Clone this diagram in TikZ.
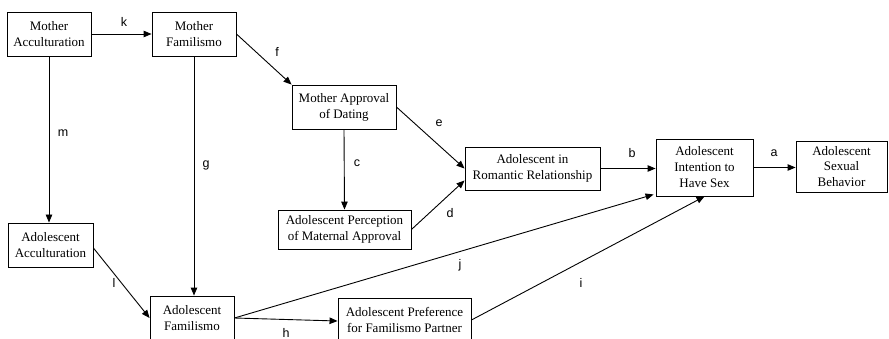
\documentclass[tikz,border=0pt]{standalone}
\usepackage{fontspec}
\setmainfont{Liberation Serif}
\newfontfamily\labfont{Liberation Sans}
\usetikzlibrary{arrows.meta,calc}
\begin{document}
\begin{tikzpicture}[x=1pt,y=-1pt,
  box/.style={draw,line width=0.9pt,inner sep=0pt,align=center,
    font=\fontsize{13}{16}\selectfont},
  conn/.style={line width=0.9pt,-{Triangle[length=8pt,width=6.5pt]}},
  lbl/.style={inner sep=0pt,font=\labfont\fontsize{12.5}{14}\selectfont}]
\useasboundingbox (0,0) rectangle (889,339);
\clip (0,0) rectangle (889,339);
% boxes
\node[box,minimum width=84pt,minimum height=44pt] (MA) at (49,34) {Mother\\Acculturation};
\node[box,minimum width=84pt,minimum height=44pt] (MF) at (194,34) {Mother\\Familismo};
\node[box,minimum width=104pt,minimum height=44pt] (MAD) at (344,107) {Mother Approval\\of Dating};
\node[box,minimum width=135pt,minimum height=43pt] (ARR) at (532.5,168.5) {Adolescent in\\Romantic Relationship};
\node[box,minimum width=133pt,minimum height=39pt] (APM) at (344.5,229.5) {Adolescent Perception\\of Maternal Approval};
\node[box,minimum width=97pt,minimum height=57pt] (AIH) at (704.5,167.5) {Adolescent\\Intention to\\Have Sex};
\node[box,minimum width=91pt,minimum height=51pt,font=\fontsize{13}{15.5}\selectfont] (ASB) at (841.5,166.5) {Adolescent\\Sexual\\Behavior};
\node[box,minimum width=85pt,minimum height=44pt] (AA) at (50.5,245) {Adolescent\\Acculturation};
\node[box,minimum width=84pt,minimum height=44pt] (AF) at (192,318) {Adolescent\\Familismo};
\node[box,minimum width=133pt,minimum height=44pt] (APF) at (404.5,320) {Adolescent Preference\\for Familismo Partner};
% connectors
\draw[conn] (MA.east) -- (MF.west);
\draw[conn] (MF.east) -- (MAD.north west);
\draw[conn] (MA.south) -- (MA.south |- AA.north);
\draw[conn] (MF.south) -- (MF.south |- AF.north);
\draw[conn] (MAD.south) -- (APM.north);
\draw[conn] (MAD.east) -- (ARR.west);
\draw[conn] (APM.east) -- ($(ARR.west)+(0,12)$);
\draw[conn] (ARR.east) -- (ARR.east -| AIH.west);
\draw[conn] (AIH.east) -- (AIH.east -| ASB.west);
\draw[conn] (AF.east) -- ($(AIH.south west)+(-2,-2)$);
\draw[conn] (APF.east) -- (AIH.south);
\draw[conn] ($(AA.east)+(0,3)$) -- (AF.west);
\draw[conn] (AF.east) -- ($(APF.west)+(0,1)$);
% labels
\node[lbl] (lk) at (124,22) {k};
\node[lbl] (lf) at (277,52) {f};
\node[lbl] (lm) at (63,133) {m};
\node[lbl] (lg) at (206,165) {g};
\node[lbl] (le) at (439,123) {e};
\node[lbl] (lc) at (357,163) {c};
\node[lbl] (ld) at (450,213) {d};
\node[lbl] (lb) at (632,153) {b};
\node[lbl] (la) at (774,153) {a};
\node[lbl] (lj) at (460,265) {j};
\node[lbl] (li) at (581,283) {i};
\node[lbl] (ll) at (114,283) {l};
\node[lbl] (lh) at (286,333) {h};
\end{tikzpicture}
\end{document}
